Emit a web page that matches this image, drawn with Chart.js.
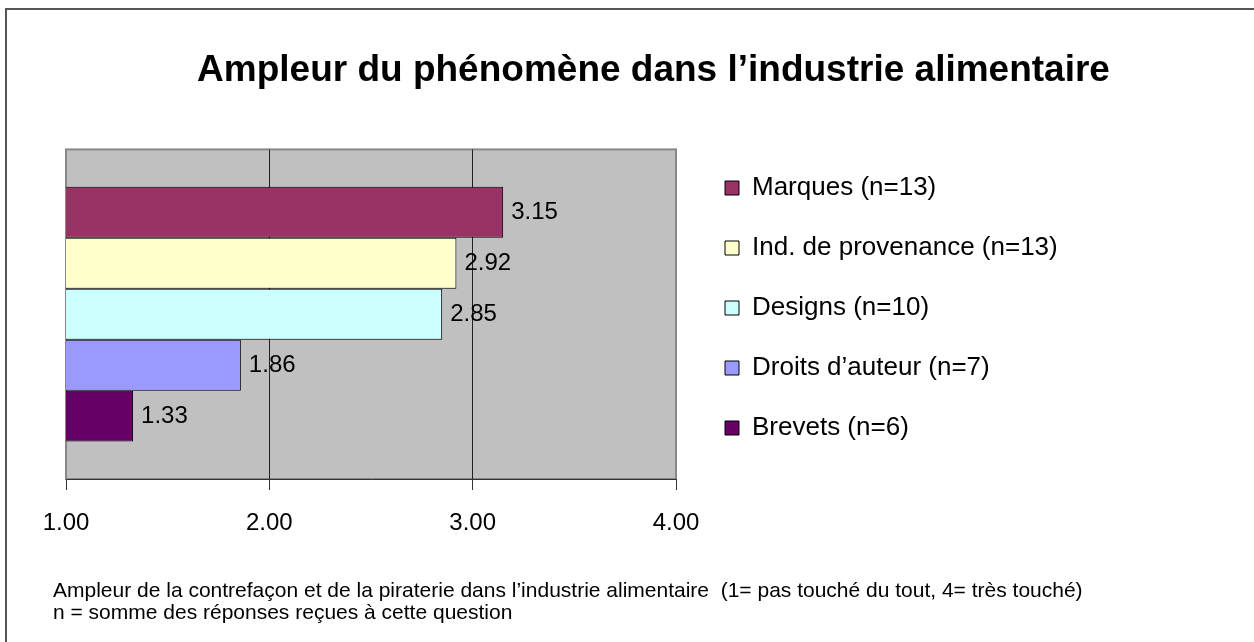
<!DOCTYPE html>
<html lang="fr">
<head>
<meta charset="utf-8">
<title>Ampleur du phénomène dans l’industrie alimentaire</title>
<script src="https://cdn.jsdelivr.net/npm/chart.js@4"></script>
<style>
  html, body { margin: 0; padding: 0; background: #fff; overflow: hidden; }
  #wrap { position: relative; width: 1254px; height: 642px; }
  #frame { position: absolute; left: 5px; top: 8px; right: -10px; bottom: -10px; border: 2px solid #555; }
  canvas { position: absolute; left: 0; top: 0; }
</style>
</head>
<body>
<div id="wrap">
  <div id="frame"></div>
  <canvas id="chart" width="1254" height="642"></canvas>
</div>
<script>
// data
const categories = ['Marques (n=13)', 'Ind. de provenance (n=13)', 'Designs (n=10)', 'Droits d’auteur (n=7)', 'Brevets (n=6)'];
const values = [3.15, 2.92, 2.85, 1.86, 1.33];
const colors = ['#993366', '#FFFFCC', '#CCFFFF', '#9999FF', '#660066'];
const xTicks = [1, 2, 3, 4];

const FONT = '"Liberation Sans", Arial, sans-serif';

// grey plot area with its frame
const plotBackground = {
  id: 'plotBackground',
  beforeDraw(chart) {
    const { ctx, chartArea: a } = chart;
    ctx.save();
    ctx.fillStyle = '#C0C0C0';
    ctx.fillRect(a.left, a.top, a.width, a.height);
    ctx.strokeStyle = '#888';
    ctx.lineWidth = 2;
    ctx.strokeRect(a.left, a.top, a.width, a.height);
    ctx.restore();
  }
};

// value next to each bar
const valueLabels = {
  id: 'valueLabels',
  afterDatasetsDraw(chart) {
    const ctx = chart.ctx;
    ctx.save();
    ctx.font = '24px ' + FONT;
    ctx.fillStyle = '#000';
    ctx.textAlign = 'left';
    ctx.textBaseline = 'middle';
    chart.data.datasets.forEach((ds, i) => {
      chart.getDatasetMeta(i).data.forEach((bar, j) => {
        ctx.fillText(ds.data[j].toFixed(2), bar.x + 8, bar.y);
      });
    });
    ctx.restore();
  }
};

// legend stretched to the right edge, nudged up a little
const legendPlace = {
  id: 'legendPlace',
  beforeLayout(chart) {
    const lg = chart.legend;
    if (lg && !lg._patched) {
      const fit = lg.fit.bind(lg);
      lg.fit = function () { fit(); this.width = 563; };
      lg._patched = true;
    }
  },
  afterLayout(chart) {
    const lg = chart.legend;
    if (lg) { lg.top -= 13; lg.bottom -= 13; }
  }
};

const datasets = categories.map((name, i) => ({
  label: name,
  data: [values[i]],
  backgroundColor: colors[i],
  borderColor: '#000',
  borderWidth: 1,
  borderSkipped: false,
  categoryPercentage: 0.773,
  barPercentage: 1
}));

new Chart(document.getElementById('chart'), {
  type: 'bar',
  data: { labels: [''], datasets },
  options: {
    indexAxis: 'y',
    responsive: false,
    animation: false,
    layout: { padding: { left: 53, right: 0, top: 0, bottom: 0 } },
    scales: {
      x: {
        type: 'linear',
        min: 1,
        max: 4,
        afterBuildTicks: (s) => { s.ticks = xTicks.map(v => ({ value: v })); },
        afterFit: (s) => { s.height = 60; },
        ticks: {
          font: { family: FONT, size: 24 },
          color: '#000',
          padding: 19,
          callback: (v) => Number(v).toFixed(2)
        },
        grid: {
          color: (c) => (c.tick && c.tick.value > 1 && c.tick.value < 4) ? '#222' : 'rgba(0,0,0,0)',
          tickColor: '#333',
          tickLength: 11,
          lineWidth: 1
        },
        border: { display: true, color: '#333', width: 1 }
      },
      y: {
        type: 'category',
        afterFit: (s) => { s.width = 13; },
        ticks: { display: false },
        grid: { display: false },
        border: { display: false }
      },
      y2: {
        type: 'linear',
        position: 'right',
        afterFit: (s) => { s.width = 15; },
        ticks: { display: false },
        grid: { display: false },
        border: { display: false }
      }
    },
    plugins: {
      title: {
        display: true,
        text: 'Ampleur du phénomène dans l’industrie alimentaire',
        color: '#000',
        font: { family: FONT, size: 37, weight: 'bold', lineHeight: 1.2 },
        padding: { top: 49, bottom: 56 }
      },
      subtitle: {
        display: true,
        position: 'bottom',
        align: 'start',
        text: [
          'Ampleur de la contrefaçon et de la piraterie dans l’industrie alimentaire  (1= pas touché du tout, 4= très touché)',
          'n = somme des réponses reçues à cette question'
        ],
        color: '#000',
        font: { family: FONT, size: 21, lineHeight: 22 / 21 },
        padding: { top: 41, bottom: 18 }
      },
      legend: {
        position: 'right',
        align: 'center',
        fullSize: true,
        labels: {
          color: '#000',
          font: { family: FONT, size: 26 },
          boxWidth: 14,
          boxHeight: 14,
          padding: 34
        }
      },
      tooltip: { enabled: false }
    }
  },
  plugins: [plotBackground, valueLabels, legendPlace]
});
</script>
</body>
</html>
